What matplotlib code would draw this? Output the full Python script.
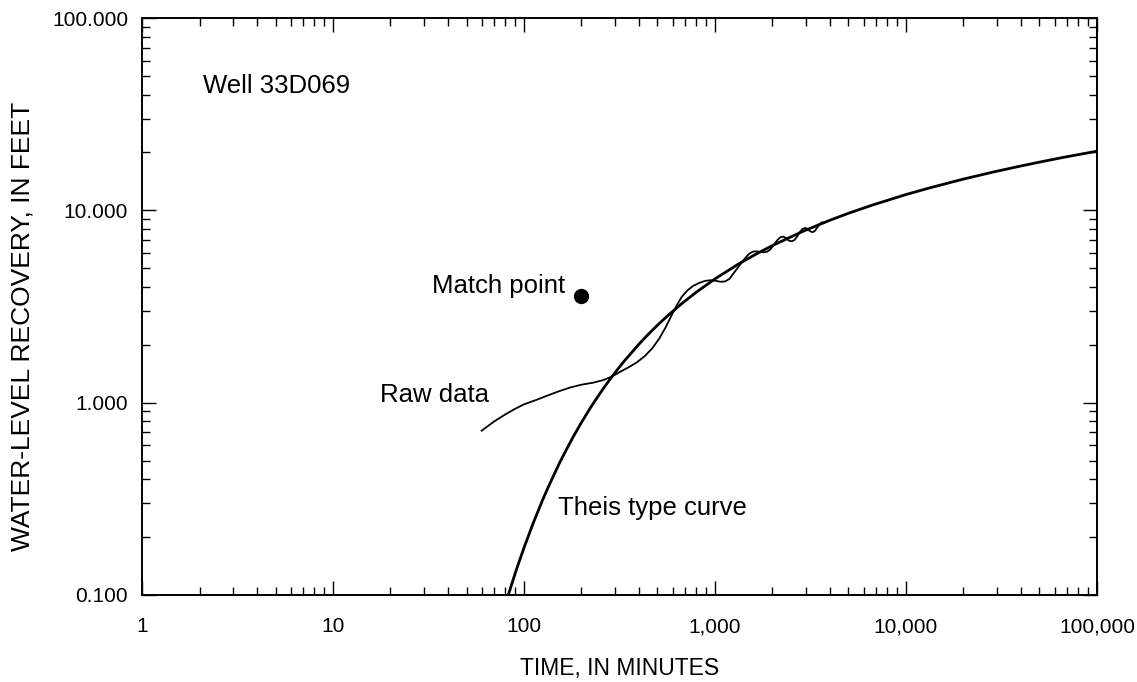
import matplotlib
matplotlib.use("Agg")
import matplotlib.pyplot as plt
from matplotlib.ticker import FixedLocator, LogLocator, NullFormatter

plt.rcParams['font.family'] = ['Liberation Sans', 'DejaVu Sans']

# Theis type curve (minutes, feet)
theis_t = [80, 90.9, 100, 111.1, 125, 133.3, 142.9, 153.8, 166.7, 181.8, 200,
           222.2, 250, 266.7, 285.7, 307.7, 333.3, 400, 444.4, 500, 571.4,
           666.7, 800, 1000, 1333, 1667, 2000, 2857, 4000, 5000, 6667, 10000,
           13333, 20000, 28571, 40000, 50000, 66667, 100000]
theis_s = [0.090, 0.134, 0.176, 0.233, 0.311, 0.360, 0.418, 0.488, 0.570,
           0.670, 0.790, 0.937, 1.118, 1.225, 1.346, 1.481, 1.636, 2.015,
           2.251, 2.529, 2.859, 3.261, 3.759, 4.402, 5.272, 5.974, 6.562,
           7.743, 8.884, 9.653, 10.65, 12.08, 13.09, 14.54, 15.81, 17.01,
           17.81, 18.85, 20.30]

# raw recovery data
raw_t = [60, 70, 80, 90, 100, 115, 130, 150, 175, 200, 230, 260, 290, 320,
         350, 390, 430, 470, 510, 550, 590, 630, 670, 720, 770, 830, 890, 950,
         1010, 1070, 1130, 1190, 1250, 1310, 1370, 1440, 1510, 1580, 1650,
         1720, 1800, 1880, 1960, 2040, 2120, 2200, 2280, 2360, 2440, 2520,
         2600, 2690, 2780, 2870, 2960, 3050, 3140, 3230, 3320, 3420, 3520,
         3620, 3720, 3820]
raw_s = [0.715, 0.80, 0.87, 0.93, 0.98, 1.03, 1.08, 1.14, 1.20, 1.24, 1.27,
         1.31, 1.37, 1.45, 1.52, 1.62, 1.75, 1.92, 2.15, 2.45, 2.82, 3.2,
         3.55, 3.85, 4.05, 4.2, 4.3, 4.33, 4.3, 4.25, 4.27, 4.4, 4.7, 5.0,
         5.3, 5.65, 5.95, 6.1, 6.12, 6.08, 6.05, 6.1, 6.3, 6.65, 7.0, 7.25,
         7.3, 7.15, 6.95, 6.9, 7.0, 7.3, 7.7, 8.0, 8.1, 8.0, 7.8, 7.7, 7.78,
         8.1, 8.45, 8.65, 8.65, 8.7]

match_t = 200
match_s = 3.6

xticks = [1, 10, 100, 1000, 10000, 100000]
xlabels = ["1", "10", "100", "1,000", "10,000", "100,000"]
yticks = [0.1, 1, 10, 100]
ylabels = ["0.100", "1.000", "10.000", "100.000"]

fig = plt.figure(figsize=(11.37, 6.82), dpi=100)
ax = fig.add_axes([0.1249, 0.1276, 0.8399, 0.8460])

ax.plot(theis_t, theis_s, color="black", lw=2.0, solid_joinstyle="round")
ax.plot(raw_t, raw_s, color="black", lw=1.3, solid_joinstyle="round")
ax.plot(match_t, match_s, "o", color="black", markersize=10)

ax.set_xscale("log")
ax.set_yscale("log")
ax.set_xlim(1, 100000)
ax.set_ylim(0.1, 100)

ax.xaxis.set_major_locator(FixedLocator(xticks))
ax.set_xticklabels(xlabels)
ax.yaxis.set_major_locator(FixedLocator(yticks))
ax.set_yticklabels(ylabels)
ax.xaxis.set_minor_locator(LogLocator(base=10, subs=range(2, 10), numticks=20))
ax.yaxis.set_minor_locator(LogLocator(base=10, subs=range(2, 10), numticks=20))
ax.xaxis.set_minor_formatter(NullFormatter())
ax.yaxis.set_minor_formatter(NullFormatter())

ax.tick_params(which="both", direction="in", top=True, right=True, width=1.0)
ax.tick_params(which="major", length=10, labelsize=15)
ax.tick_params(which="minor", length=6)
ax.tick_params(axis="x", which="major", pad=16)
ax.tick_params(axis="y", which="major", pad=10)
for sp in ax.spines.values():
    sp.set_linewidth(1.4)

ax.set_xlabel("TIME, IN MINUTES", fontsize=16.5)
ax.set_ylabel("WATER-LEVEL RECOVERY, IN FEET", fontsize=19)
ax.xaxis.set_label_coords(0.5, -0.107)
ax.yaxis.set_label_coords(-0.113, 0.465)

ax.text(2.09, 40.8, "Well 33D069", fontsize=18.5, va="baseline", ha="left")
ax.text(33, 3.72, "Match point", fontsize=18.5, va="baseline", ha="left")
ax.text(17.6, 1.01, "Raw data", fontsize=18.5, va="baseline", ha="left")
ax.text(151, 0.261, "Theis type curve", fontsize=18.5, va="baseline", ha="left")

fig.savefig("out.png", dpi=100)
